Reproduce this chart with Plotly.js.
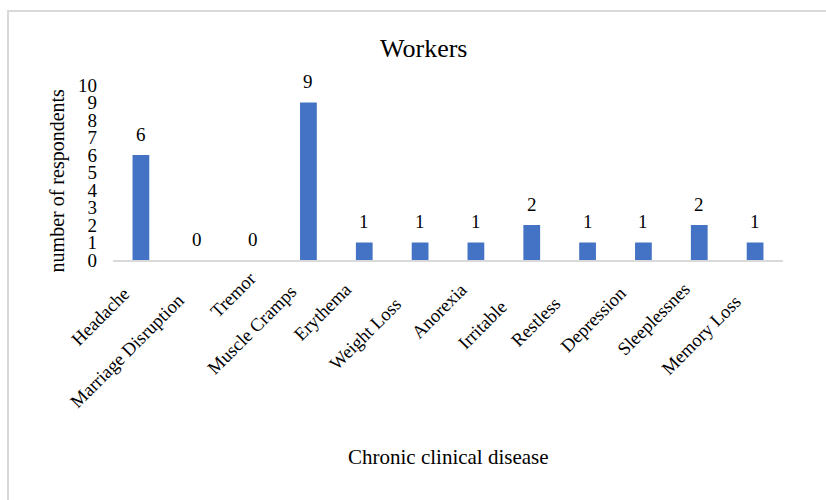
<!DOCTYPE html>
<html>
<head>
<meta charset="utf-8">
<script src="https://cdn.plot.ly/plotly-3.0.1.min.js"></script>
<style>
  html, body { margin: 0; padding: 0; background: #ffffff; overflow: hidden; }
  #wrap { position: relative; width: 826px; height: 500px; overflow: hidden; }
  #chart { position: absolute; left: 0; top: 0; width: 826px; height: 500px; }
  #frame { position: absolute; left: 7px; top: 10px; width: 840px; height: 520px;
           border: 2px solid #d9d9d9; pointer-events: none; box-sizing: border-box; }
</style>
</head>
<body>
<div id="wrap">
  <div id="chart"></div>
  <div id="frame"></div>
</div>
<script>
// Symptoms reported by workers
const categories = [
  "Headache", "Marriage Disruption", "Tremor", "Muscle Cramps", "Erythema",
  "Weight Loss", "Anorexia", "Irritable", "Restless", "Depression",
  "Sleeplessnes", "Memory Loss"
];
const respondents = [6, 0, 0, 9, 1, 1, 1, 2, 1, 1, 2, 1];
const yTicks = [0, 1, 2, 3, 4, 5, 6, 7, 8, 9, 10];

const FONT = "Liberation Serif, Times New Roman, serif";

// Rotated category labels sit at staggered offsets below the axis
const labelShiftX = [-5, -6, 10, -5, -6, -12, -2, -18, -20, -11, -2, -7];
const labelShiftY = [-21, -27, -6, -19, -17, -31, -17, -34, -31, -21, -16, -29];

const annotations = [];

// value labels above each bar
categories.forEach((c, i) => {
  annotations.push({
    x: c, y: respondents[i], xref: "x", yref: "y",
    text: String(respondents[i]), showarrow: false,
    xanchor: "center", yanchor: "middle", yshift: 21,
    font: { family: FONT, size: 19, color: "#000000" }
  });
});

// category labels
categories.forEach((c, i) => {
  annotations.push({
    x: c, y: 0, xref: "x", yref: "y",
    text: c, showarrow: false, textangle: -45,
    xanchor: "right", yanchor: "top",
    xshift: labelShiftX[i], yshift: labelShiftY[i],
    font: { family: FONT, size: 18.5, color: "#000000" }
  });
});

// axis titles
annotations.push({
  x: 0.5, y: -1.126, xref: "paper", yref: "paper",
  text: "Chronic clinical disease", showarrow: false,
  xanchor: "center", yanchor: "middle",
  font: { family: FONT, size: 21, color: "#000000" }
});
annotations.push({
  x: -0.083, y: 0.457, xref: "paper", yref: "paper",
  text: "number of respondents", showarrow: false, textangle: -90,
  xanchor: "center", yanchor: "middle",
  font: { family: FONT, size: 20, color: "#000000" }
});

const trace = {
  type: "bar",
  x: categories,
  y: respondents,
  marker: { color: "#4472C4", line: { width: 0 } },
  hoverinfo: "x+y"
};

const layout = {
  width: 826,
  height: 500,
  margin: { l: 113, r: 43, t: 85, b: 240, pad: 0 },
  paper_bgcolor: "#ffffff",
  plot_bgcolor: "#ffffff",
  showlegend: false,
  bargap: 0.7,
  title: {
    text: "Workers",
    x: 0.513, xref: "container", xanchor: "center",
    y: 0.905, yref: "container", yanchor: "middle",
    font: { family: FONT, size: 26, color: "#000000" }
  },
  xaxis: {
    type: "category",
    range: [-0.5, categories.length - 0.5],
    autorange: false,
    showticklabels: false,
    showgrid: false,
    zeroline: false,
    showline: true,
    linecolor: "#d9d9d9",
    linewidth: 2,
    ticks: ""
  },
  yaxis: {
    range: [0, 10],
    autorange: false,
    tickvals: yTicks,
    ticktext: yTicks.map(String),
    showgrid: false,
    zeroline: false,
    showline: false,
    ticks: "",
    ticklabelstandoff: 15,
    tickfont: { family: FONT, size: 19, color: "#000000" }
  },
  annotations: annotations
};

Plotly.newPlot("chart", [trace], layout, { displayModeBar: false, staticPlot: true });
</script>
</body>
</html>
